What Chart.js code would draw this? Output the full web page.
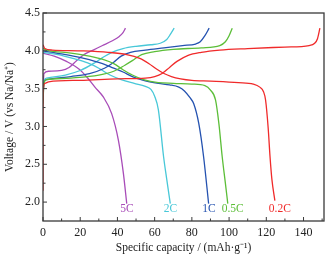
<!DOCTYPE html>
<html>
<head>
<meta charset="utf-8">
<script src="https://cdn.jsdelivr.net/npm/chart.js@4.4.1/dist/chart.umd.min.js"></script>
<style>
  html, body { margin: 0; padding: 0; background: #fff; }
  #wrap { width: 332px; height: 255px; }
</style>
</head>
<body>
<div id="wrap"><canvas id="c"></canvas></div>
<script>
// C-rates y colores
const rates = ['0.2C', '0.5C', '1C', '2C', '5C'];
const colors = ['#f02a2a', '#5cbe38', '#2452b0', '#48c8d8', '#a84cb8'];

// curvas de carga (capacidad, voltaje)
const chargeX = [
  [0, 0.05, 1, 3, 20, 40, 55, 60, 64, 68, 72, 78, 85, 95, 110, 130, 143, 146, 147.5, 148.8],
  [0, 0.5, 2, 15, 30, 38, 44, 48, 53, 60, 70, 85, 95, 98, 100, 101.7],
  [0, 0.5, 2, 15, 25, 33, 38, 42, 47, 55, 65, 75, 82, 84.5, 87, 89.3],
  [0, 0.5, 2, 12, 20, 27, 32, 37, 43, 50, 58, 63, 66.5, 68.5, 70.5],
  [0, 0.5, 3, 10, 14, 18, 22, 27, 32, 37, 41, 43, 44.3]
];
const chargeY = [
  [2.15, 3.45, 3.57, 3.59, 3.61, 3.63, 3.64, 3.66, 3.70, 3.78, 3.86, 3.94, 3.98, 4.01, 4.03, 4.05, 4.07, 4.10, 4.16, 4.30],
  [3.3, 3.58, 3.62, 3.64, 3.68, 3.73, 3.81, 3.87, 3.95, 3.99, 4.02, 4.04, 4.07, 4.12, 4.20, 4.30],
  [3.35, 3.58, 3.62, 3.66, 3.70, 3.77, 3.85, 3.93, 3.98, 4.01, 4.04, 4.07, 4.09, 4.12, 4.20, 4.30],
  [3.4, 3.6, 3.64, 3.68, 3.74, 3.83, 3.91, 3.98, 4.03, 4.06, 4.08, 4.10, 4.15, 4.22, 4.30],
  [3.45, 3.70, 3.73, 3.74, 3.78, 3.87, 3.95, 4.01, 4.07, 4.13, 4.19, 4.24, 4.30]
];

// curvas de descarga
const dischargeX = [
  [0, 1, 5, 20, 35, 45, 52, 57, 61, 65, 69, 74, 80, 90, 105, 113, 116.5, 118.5, 119.6, 121, 122, 123, 124.6],
  [0, 2, 15, 25, 33, 38, 43, 48, 54, 62, 70, 80, 87, 90, 92.7, 94.5, 96.3, 98, 99.3],
  [0, 10, 22, 32, 38, 43, 48, 54, 62, 68, 73, 76, 79, 81, 83.7, 86.3, 89],
  [0, 8, 16, 24, 30, 36, 42, 49, 55, 58, 60, 62, 64.8, 66.5, 68.4],
  [0, 6, 12.6, 19.8, 24, 27.9, 32.4, 36.9, 40.5, 43.2, 45]
];
const dischargeY = [
  [4.08, 4.03, 4.01, 4.00, 3.98, 3.95, 3.90, 3.83, 3.76, 3.70, 3.66, 3.63, 3.61, 3.60, 3.58, 3.56, 3.52, 3.46, 3.35, 2.98, 2.6, 2.3, 2.02],
  [4.03, 4.01, 3.97, 3.93, 3.88, 3.83, 3.75, 3.68, 3.62, 3.58, 3.57, 3.56, 3.54, 3.48, 3.35, 3.04, 2.6, 2.25, 1.98],
  [4.00, 3.96, 3.90, 3.83, 3.77, 3.72, 3.66, 3.61, 3.57, 3.55, 3.52, 3.47, 3.38, 3.30, 3.04, 2.60, 1.98],
  [3.98, 3.95, 3.90, 3.84, 3.77, 3.68, 3.62, 3.57, 3.53, 3.49, 3.40, 3.22, 2.60, 2.30, 1.98],
  [3.97, 3.93, 3.86, 3.75, 3.64, 3.52, 3.39, 3.17, 2.82, 2.38, 1.98]
];

const xTicks = [0, 20, 40, 60, 80, 100, 120, 140];
const yTicks = [2.0, 2.5, 3.0, 3.5, 4.0, 4.5];

const FONT = '"Liberation Serif", "Times New Roman", serif';

const toPts = (xs, ys) => xs.map((x, i) => ({ x: x, y: ys[i] }));

const datasets = [];
rates.forEach((r, i) => {
  datasets.push({ label: r + ' carga', data: toPts(chargeX[i], chargeY[i]), borderColor: colors[i] });
  datasets.push({ label: r + ' descarga', data: toPts(dischargeX[i], dischargeY[i]), borderColor: colors[i] });
});
datasets.forEach(d => {
  d.showLine = true;
  d.pointRadius = 0;
  d.borderWidth = 1.3;
  d.cubicInterpolationMode = 'monotone';
  d.fill = false;
});

// marco, marcas hacia dentro y etiquetas de C-rate
const framePlugin = {
  id: 'frame',
  afterDraw(chart) {
    const ctx = chart.ctx;
    const a = chart.chartArea;
    const xs = chart.scales.x, ys = chart.scales.y;
    ctx.save();
    ctx.strokeStyle = '#3a3a3a';
    ctx.lineWidth = 1.3;
    ctx.strokeRect(a.left, a.top, a.right - a.left, a.bottom - a.top);
    ctx.lineWidth = 1;
    ctx.beginPath();
    for (let v = 0; v <= 150; v += 10) {
      const px = xs.getPixelForValue(v);
      const len = v % 20 === 0 ? 4 : 2.5;
      ctx.moveTo(px, a.bottom); ctx.lineTo(px, a.bottom - len);
    }
    for (let v = 2.0; v <= 4.5001; v += 0.25) {
      const py = ys.getPixelForValue(v);
      const len = Math.abs(v * 2 - Math.round(v * 2)) < 0.01 ? 4 : 2.5;
      ctx.moveTo(a.left, py); ctx.lineTo(a.left + len, py);
    }
    ctx.stroke();

    ctx.font = '11.5px ' + FONT;
    ctx.textBaseline = 'middle';
    ctx.textAlign = 'center';
    rates.forEach((r, i) => {
      const xEnd = dischargeX[i][dischargeX[i].length - 1];
      const w = ctx.measureText(r).width;
      const px = xs.getPixelForValue(xEnd) + Math.max(0, (w - 13) * 0.55);
      ctx.fillStyle = colors[i];
      ctx.fillText(r, px, a.bottom - 12);
    });
    ctx.restore();
  }
};

new Chart(document.getElementById('c'), {
  type: 'scatter',
  data: { datasets: datasets },
  plugins: [framePlugin],
  options: {
    responsive: true,
    maintainAspectRatio: false,
    animation: false,
    layout: { padding: { top: 13, right: 8, left: 0, bottom: 0 } },
    plugins: { legend: { display: false }, tooltip: { enabled: false } },
    scales: {
      x: {
        type: 'linear', min: 0, max: 151,
        afterBuildTicks: s => { s.ticks = xTicks.map(v => ({ value: v })); },
        afterFit: s => { s.height = 34; },
        grid: { display: false, drawTicks: false },
        border: { display: false },
        ticks: { color: '#222', padding: 5, font: { family: FONT, size: 12 } },
        title: {
          display: true, text: 'Specific capacity / (mAh·g⁻¹)', color: '#222',
          padding: { top: 3, bottom: 0 }, font: { family: FONT, size: 11.5 }
        }
      },
      y: {
        type: 'linear', min: 1.75, max: 4.5,
        afterBuildTicks: s => { s.ticks = yTicks.map(v => ({ value: v })); },
        afterFit: s => { s.width = 43; },
        grid: { display: false, drawTicks: false },
        border: { display: false },
        ticks: { color: '#222', padding: 3, font: { family: FONT, size: 12 },
          callback: v => Number(v).toFixed(1) },
        title: {
          display: true, text: 'Voltage / V (vs Na/Na⁺)', color: '#222',
          padding: { top: 3, bottom: 0 }, font: { family: FONT, size: 11.5 }
        }
      }
    }
  }
});
</script>
</body>
</html>
